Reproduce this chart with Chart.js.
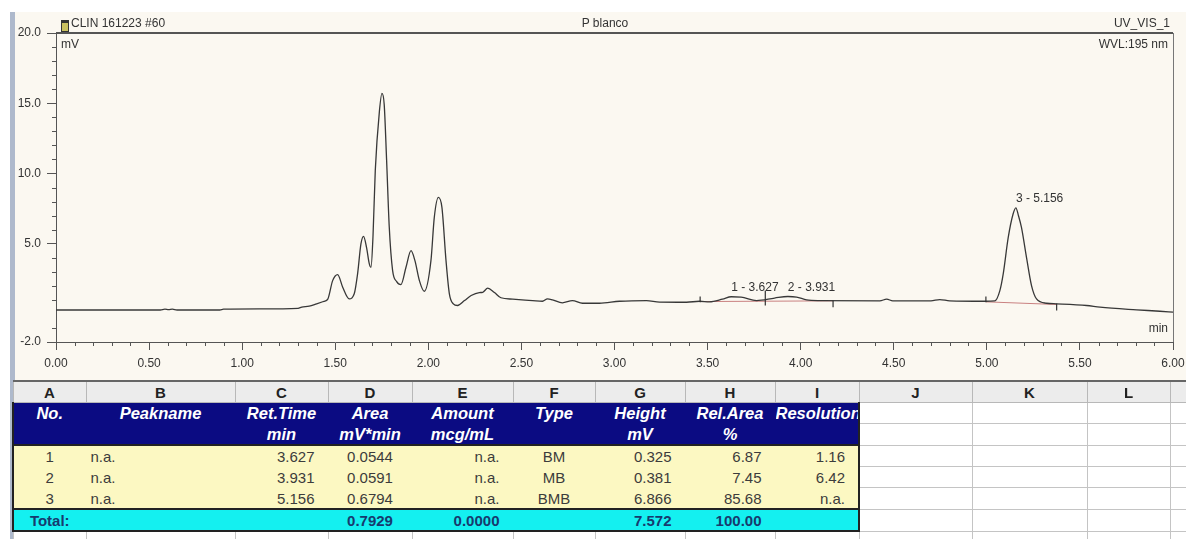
<!DOCTYPE html>
<html>
<head>
<meta charset="utf-8">
<script src="https://cdn.jsdelivr.net/npm/chart.js@4.4.0/dist/chart.umd.min.js"></script>
<style>
  html { overflow: hidden; }
  html, body { margin: 0; padding: 0; background: #ffffff; }
  body { width: 1186px; height: 539px; position: relative; overflow: hidden;
         font-family: "Liberation Sans", Arial, sans-serif; }
  #panel { position: absolute; left: 15px; top: 12px; width: 1171px; height: 368px; background: #fbf8f1; }
  #sidebar { position: absolute; left: 10px; top: 12px; width: 5px; height: 527px; background: #aeb9cc; }
  #wrap { position: absolute; left: 0; top: 0; width: 1186px; height: 380px; }
  .lbl { position: absolute; font-size: 12px; line-height: 14px; color: #333; white-space: nowrap; }
  #vial { position: absolute; left: 61px; top: 20px; width: 6px; height: 8px;
          background: #c9c060; border: 1px solid #333; border-top-width: 3px; }
  #tbl { position: absolute; left: 12px; top: 380px; border-collapse: collapse; table-layout: fixed;
         font-size: 15px; color: #3c3c3c; border-top: 2px solid #666; }
  #tbl td { height: 20px; padding: 0; line-height: 19px; white-space: nowrap; overflow: hidden;
            border: 1px solid #c4c4c4; background: #ffffff; }
  #tbl tr.letters td { background: #ececec; font-weight: bold; color: #222; text-align: center; border-color: #b8b8b8; }
  #tbl td.nv { background: #0b0b82; border-color: #0b0b82; color: #ffffff; font-weight: bold;
               font-style: italic; font-size: 16.5px; text-align: center; }
  #tbl td.yl { background: #fcf8c2; border-color: #fcf8c2; }
  #tbl td.cy { background: #14f0f0; border-color: #14f0f0; font-weight: bold; color: #173a6e; }
  #tbl td.L { border-left: 2px solid #222; }
  #tbl td.R { border-right: 2px solid #222; }
  #tbl tr.hb td.blk { border-bottom: 2px solid #222; }
  #tbl .c { text-align: center; }
  #tbl .r { text-align: right; padding-right: 13px; }
  #tbl .l { text-align: left; padding-left: 4px; }
</style>
</head>
<body>
<div id="panel"></div>
<div id="sidebar"></div>
<div id="wrap"><canvas id="chrom" width="1186" height="380"></canvas></div>
<div id="vial"></div>
<div class="lbl" style="left:71px;top:16px;">CLIN 161223 #60</div>
<div class="lbl" style="left:555px;top:16px;width:100px;text-align:center;">P blanco</div>
<div class="lbl" style="right:16px;top:16px;">UV_VIS_1</div>
<div class="lbl" style="left:61px;top:37px;">mV</div>
<div class="lbl" style="right:18px;top:37px;">WVL:195 nm</div>
<div class="lbl" style="right:18px;top:321px;">min</div>
<table id="tbl"></table>

<script>
// ---- chromatogram trace (time in min, signal in mV) ----
const times = [
  0.00, 0.20, 0.40, 0.56, 0.585, 0.605, 0.625, 0.65, 0.88, 0.90,
  1.10, 1.30, 1.32, 1.36, 1.40, 1.44, 1.46, 1.486, 1.513, 1.54,
  1.575, 1.602, 1.62, 1.638, 1.652, 1.668, 1.683, 1.692, 1.703, 1.715,
  1.737, 1.751, 1.763, 1.776, 1.790, 1.808, 1.83, 1.853, 1.88, 1.907,
  1.928, 1.952, 1.978, 2.014, 2.032, 2.054, 2.073, 2.095, 2.113, 2.134,
  2.157, 2.194, 2.23, 2.274, 2.292, 2.319, 2.355, 2.39, 2.453, 2.56,
  2.613, 2.64, 2.667, 2.72, 2.774, 2.828, 2.919, 3.027, 3.172, 3.242,
  3.387, 3.457, 3.51, 3.58, 3.627, 3.68, 3.763, 3.86, 3.931, 3.978,
  4.032, 4.10, 4.425, 4.462, 4.495, 4.70, 4.747, 4.80, 4.99, 5.043,
  5.07, 5.088, 5.115, 5.141, 5.156, 5.17, 5.186, 5.213, 5.24, 5.267,
  5.321, 5.374, 5.536, 5.608, 5.805, 5.93, 6.00
];
const signal = [
  0.28, 0.28, 0.28, 0.28, 0.34, 0.30, 0.34, 0.28, 0.28, 0.34,
  0.36, 0.40, 0.48, 0.55, 0.72, 0.90, 1.05, 2.37, 2.80, 1.90,
  1.07, 1.43, 2.85, 4.98, 5.52, 4.74, 3.56, 3.32, 5.60, 10.2,
  14.4, 15.7, 14.9, 10.9, 6.20, 3.10, 2.30, 2.09, 3.32, 4.50,
  3.79, 2.37, 1.61, 3.79, 6.87, 8.29, 7.58, 3.79, 1.43, 0.72,
  0.60, 0.95, 1.31, 1.52, 1.54, 1.83, 1.52, 1.15, 1.05, 0.95,
  0.90, 1.07, 1.00, 0.79, 0.95, 0.76, 0.76, 0.90, 0.95, 0.84,
  0.83, 0.90, 0.86, 1.05, 1.22, 1.20, 0.95, 1.13, 1.24, 1.20,
  1.00, 0.95, 0.93, 1.05, 0.93, 0.93, 1.02, 0.93, 0.90, 0.93,
  1.66, 2.85, 5.45, 7.11, 7.55, 6.99, 6.16, 4.03, 2.02, 1.07,
  0.76, 0.72, 0.60, 0.48, 0.29, 0.19, 0.12
];

// ---- integrated peaks ----
const peakNo    = [1, 2, 3];
const peakName  = ['n.a.', 'n.a.', 'n.a.'];
const retTime   = [3.627, 3.931, 5.156];
const peakApex  = [1.22, 1.24, 7.55];
const area      = ['0.0544', '0.0591', '0.6794'];
const amount    = ['n.a.', 'n.a.', 'n.a.'];
const peakType  = ['BM', 'MB', 'BMB'];
const heightMv  = ['0.325', '0.381', '6.866'];
const relArea   = ['6.87', '7.45', '85.68'];
const resolution = ['1.16', '6.42', 'n.a.'];
const totalArea = '0.7929', totalAmount = '0.0000', totalHeight = '7.572', totalRel = '100.00';

// peak delimiters (time, upper and lower end in mV)
const delimTime   = [3.46, 3.81, 4.174, 4.995, 5.375];
const delimTop    = [1.24, 1.66, 0.95, 1.24, 0.74];
const delimBottom = [0.83, 0.60, 0.48, 0.83, 0.25];

// integration baselines
const base1Time = [3.46, 4.174], base1Val = [0.88, 0.93];
const base2Time = [4.995, 5.375], base2Val = [0.86, 0.67];

// ---- axis ticks ----
const xTickValues = [0, 0.5, 1, 1.5, 2, 2.5, 3, 3.5, 4, 4.5, 5, 5.5, 6];
const yTickValues = [-2, 5, 10, 15, 20];

const zip = (xs, ys) => xs.map((x, i) => ({ x: x, y: ys[i] }));
const delimPoints = [];
delimTime.forEach((t, i) => {
  delimPoints.push({ x: t, y: delimTop[i] }, { x: t, y: delimBottom[i] }, { x: t, y: null });
});

Chart.defaults.font.family = '"Liberation Sans", Arial, sans-serif';

const frame = {
  id: 'frame',
  afterDraw(chart) {
    const { ctx, chartArea: a, scales: { x, y } } = chart;
    ctx.save();
    ctx.strokeStyle = '#555';
    ctx.lineWidth = 2;
    ctx.beginPath(); ctx.moveTo(a.left, a.top); ctx.lineTo(a.right, a.top); ctx.stroke();
    ctx.lineWidth = 1;
    ctx.strokeStyle = '#777';
    ctx.beginPath(); ctx.moveTo(a.right + 0.5, a.top); ctx.lineTo(a.right + 0.5, a.bottom); ctx.stroke();
    // minor ticks
    ctx.strokeStyle = '#555';
    for (let k = 0; k <= 60; k++) {
      if (k % 5 === 0) continue;
      const px = Math.round(x.getPixelForValue(k / 10)) + 0.5;
      ctx.beginPath(); ctx.moveTo(px, a.bottom); ctx.lineTo(px, a.bottom + 4); ctx.stroke();
    }
    for (let v = -1; v < 20; v++) {
      if (v % 5 === 0) continue;
      const py = Math.round(y.getPixelForValue(v)) + 0.5;
      ctx.beginPath(); ctx.moveTo(a.left - 4, py); ctx.lineTo(a.left, py); ctx.stroke();
    }
    ctx.restore();
  }
};

const peakLabels = {
  id: 'peakLabels',
  afterDatasetsDraw(chart) {
    const { ctx, scales: { x, y } } = chart;
    ctx.save();
    ctx.font = '12px "Liberation Sans", Arial, sans-serif';
    ctx.fillStyle = '#333';
    ctx.textAlign = 'left';
    ctx.textBaseline = 'bottom';
    retTime.forEach((t, i) => {
      ctx.fillText(peakNo[i] + ' - ' + t.toFixed(3), x.getPixelForValue(t), y.getPixelForValue(peakApex[i]) - 3);
    });
    ctx.restore();
  }
};

new Chart(document.getElementById('chrom'), {
  type: 'line',
  data: {
    datasets: [
      { data: zip(times, signal), borderColor: '#383838', borderWidth: 1.3,
        pointRadius: 0, cubicInterpolationMode: 'monotone', order: 1 },
      { data: zip(base1Time, base1Val), borderColor: '#c98080', borderWidth: 1, pointRadius: 0, order: 2 },
      { data: zip(base2Time, base2Val), borderColor: '#c98080', borderWidth: 1, pointRadius: 0, order: 2 },
      { data: delimPoints, borderColor: '#333', borderWidth: 1.2, pointRadius: 0, spanGaps: false, order: 0 }
    ]
  },
  options: {
    responsive: false,
    animation: false,
    events: [],
    layout: { padding: { top: 33, right: 13, left: 0, bottom: 0 } },
    plugins: { legend: { display: false }, tooltip: { enabled: false } },
    scales: {
      x: {
        type: 'linear', min: 0, max: 6,
        afterFit(s) { s.height = 38; s.paddingLeft = 0; s.paddingRight = 0; },
        afterBuildTicks(s) { s.ticks = xTickValues.map(v => ({ value: v })); },
        ticks: { callback: v => Number(v).toFixed(2), color: '#333', font: { size: 12 },
                 padding: 6, maxRotation: 0, autoSkip: false },
        grid: { drawOnChartArea: false, tickLength: 8, tickColor: '#555' },
        border: { color: '#555', width: 1 }
      },
      y: {
        min: -2, max: 20,
        afterFit(s) { s.width = 56; s.paddingTop = 0; s.paddingBottom = 0; },
        afterBuildTicks(s) { s.ticks = yTickValues.map(v => ({ value: v })); },
        ticks: { callback: v => Number(v).toFixed(1), color: '#333', font: { size: 12 }, padding: 6 },
        grid: { drawOnChartArea: false, tickLength: 9, tickColor: '#555' },
        border: { color: '#555', width: 1 }
      }
    }
  },
  plugins: [frame, peakLabels]
});

// ---- peak table ----
const colLetters = ['A','B','C','D','E','F','G','H','I','J','K','L','M'];
const colWidths  = [73, 149, 93, 84, 101, 82, 90, 90, 84, 113, 115, 83, 80];
const head1 = ['No.', 'Peakname', 'Ret.Time', 'Area', 'Amount', 'Type', 'Height', 'Rel.Area', 'Resolution'];
const head2 = ['', '', 'min', 'mV*min', 'mcg/mL', '', 'mV', '%', ''];

const tbl = document.getElementById('tbl');
tbl.style.width = colWidths.reduce((s, w) => s + w, 0) + 'px';
let html = '<colgroup>' + colWidths.map(w => '<col style="width:' + w + 'px">').join('') + '</colgroup>';
html += '<tr class="letters">' + colLetters.map(c => '<td>' + c + '</td>').join('') + '</tr>';
const empties = n => Array(n).fill('<td></td>').join('');
const edge = i => (i === 0 ? ' L' : '') + (i === 8 ? ' R' : '');
function row(cells, cls, extraCls, trCls) {
  return '<tr class="' + (trCls || '') + '">' + cells.map((c, i) =>
    '<td class="' + cls + ' blk ' + (extraCls[i] || '') + edge(i) + '">' + c + '</td>').join('') + empties(4) + '</tr>';
}
html += row(head1, 'nv', [], '');
html += row(head2, 'nv', [], 'hb');
const align = ['c', 'l', 'r', 'c', 'r', 'c', 'r', 'r', 'r'];
peakNo.forEach((n, i) => {
  html += row([n, peakName[i], retTime[i].toFixed(3), area[i], amount[i], peakType[i], heightMv[i], relArea[i], resolution[i]],
              'yl', align, i === peakNo.length - 1 ? 'hb' : '');
});
html += row(['Total:', '', '', totalArea, totalAmount, '', totalHeight, totalRel, ''], 'cy', align.map((a, i) => i === 0 ? 'c' : a), 'hb');
html += '<tr>' + empties(13) + '</tr>';
tbl.innerHTML = html;
</script>
</body>
</html>
